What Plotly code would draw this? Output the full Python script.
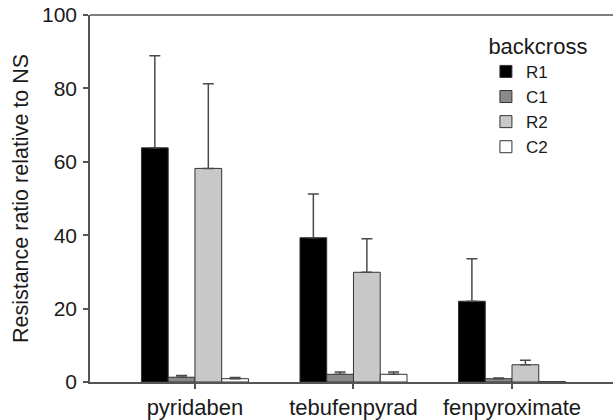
import plotly.graph_objects as go

# Insecticides tested
categories = ["pyridaben", "tebufenpyrad", "fenpyroximate"]

# Resistance ratios (relative to NS) per backcross line, with upper error
r1 = [63.8, 39.3, 22.0]
r1_err = [25.1, 11.9, 11.6]
c1 = [1.3, 2.1, 0.9]
c1_err = [0.5, 0.6, 0.2]
r2 = [58.2, 29.9, 4.7]
r2_err = [23.1, 9.1, 1.2]
c2 = [0.9, 2.1, 0.1]
c2_err = [0.3, 0.6, 0.0]

series = [
    ("R1", r1, r1_err, "#000000"),
    ("C1", c1, c1_err, "#8a8a8a"),
    ("R2", r2, r2_err, "#c8c8c8"),
    ("C2", c2, c2_err, "#ffffff"),
]

FONT = "Liberation Sans, Arial, sans-serif"
AXIS = "#555555"

fig = go.Figure()
for name, vals, errs, color in series:
    fig.add_trace(go.Bar(
        name=name,
        x=categories,
        y=vals,
        marker=dict(color=color, line=dict(color="#333333", width=1)),
        error_y=dict(type="data", array=errs, symmetric=False,
                     arrayminus=[0] * len(errs),
                     color="#4a4a4a", thickness=1.5, width=5.5),
    ))

fig.update_layout(
    width=613, height=420,
    margin=dict(l=90, r=0, t=15, b=38, autoexpand=False),
    paper_bgcolor="white", plot_bgcolor="white",
    barmode="group", bargap=0.325, bargroupgap=0,
    font=dict(family=FONT, size=21, color="#1a1a1a"),
    showlegend=True,
    legend=dict(
        title=dict(text="backcross", font=dict(size=22), side="top center"),
        font=dict(size=17),
        x=0.757, y=0.972, xanchor="left", yanchor="top",
        bgcolor="rgba(0,0,0,0)", itemwidth=30,
        tracegroupgap=0,
    ),
    shapes=[dict(type="line", xref="paper", yref="paper",
                 x0=0, x1=1, y0=1, y1=1,
                 line=dict(color=AXIS, width=1.5))],
)

fig.update_xaxes(
    range=[-0.662, 2.637],
    automargin=False,
    showline=True, linecolor=AXIS, linewidth=1.5,
    ticks="outside", ticklen=5, tickcolor=AXIS, tickwidth=1.5,
    ticklabelstandoff=0,
    tickfont=dict(size=22),
    showgrid=False, zeroline=False,
)
fig.update_yaxes(
    range=[0, 100], tickvals=[0, 20, 40, 60, 80, 100],
    automargin=False,
    showline=True, linecolor=AXIS, linewidth=1.5,
    ticks="outside", ticklen=5, tickcolor=AXIS, tickwidth=1.5,
    ticklabelstandoff=2,
    tickfont=dict(size=21),
    showgrid=False, zeroline=False,
    title=dict(text="Resistance ratio relative to NS", font=dict(size=21.5),
               standoff=7),
)

fig.write_html("out.html")
